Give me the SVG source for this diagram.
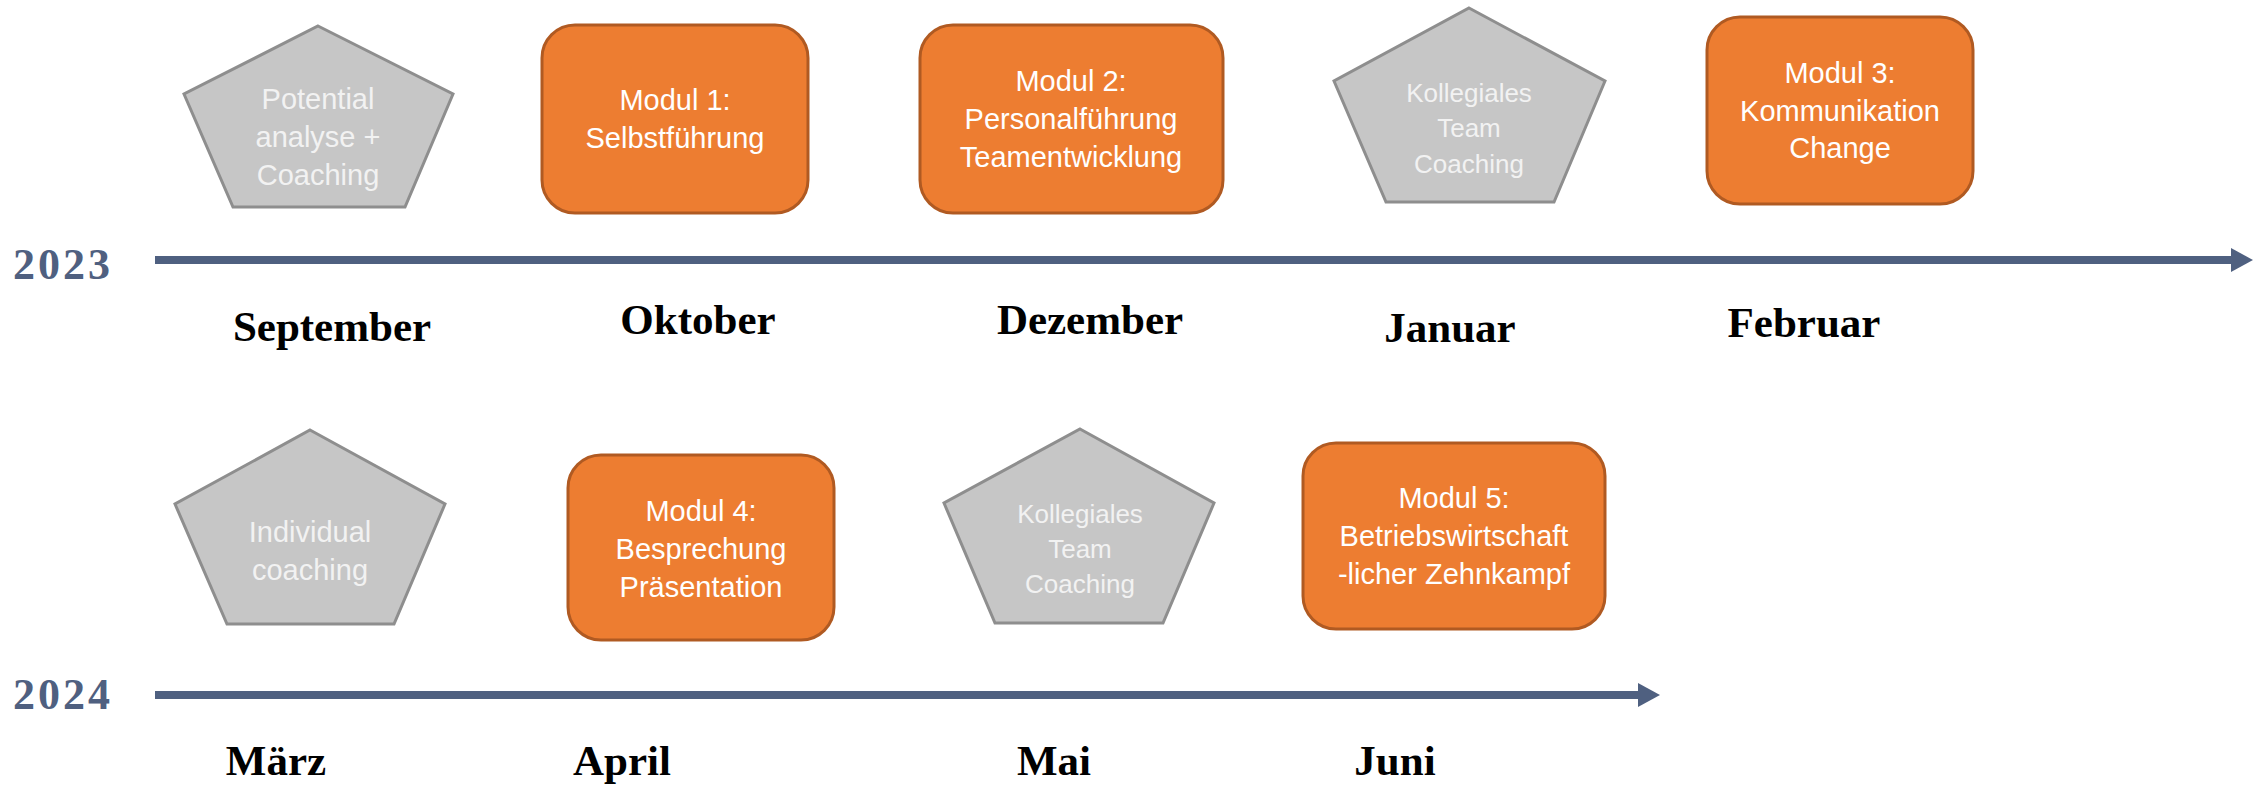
<svg xmlns="http://www.w3.org/2000/svg" width="2267" height="786" viewBox="0 0 2267 786">
<style>
.pent{fill:#C6C6C6;stroke:#8E8E8E;stroke-width:3;stroke-linejoin:miter}
.box{fill:#ED7D31;stroke:#B05A22;stroke-width:3}
.wt{font-family:"Liberation Sans",Arial,sans-serif;font-size:29px;fill:#FFFFFF;text-anchor:middle}
.gt{font-family:"Liberation Sans",Arial,sans-serif;font-size:29px;fill:#F2F2F2;text-anchor:middle}
.gs{font-family:"Liberation Sans",Arial,sans-serif;font-size:26px;fill:#F2F2F2;text-anchor:middle}
.month{font-family:"Liberation Serif","Times New Roman",serif;font-size:43px;font-weight:bold;fill:#000000;text-anchor:middle}
.year{font-family:"Liberation Serif","Times New Roman",serif;font-size:44px;font-weight:bold;fill:#4F6080;letter-spacing:3px}
.axis{stroke:#4F6080;stroke-width:8;fill:none}
</style>
<defs>
<marker id="arr" markerUnits="userSpaceOnUse" markerWidth="22" markerHeight="24" refX="0" refY="12" orient="auto">
<path d="M0,0 L22,12 L0,24 Z" fill="#4F6080"/>
</marker>
</defs>
<rect width="2267" height="786" fill="#FFFFFF"/>

<g id="connectors">
<line class="axis" x1="155" y1="260" x2="2231" y2="260" marker-end="url(#arr)"/>
<line class="axis" x1="155" y1="695" x2="1638" y2="695" marker-end="url(#arr)"/>
</g>

<g id="year-2023"><text class="year" x="13" y="279">2023</text></g>
<g id="year-2024"><text class="year" x="13" y="709">2024</text></g>

<g id="potentialanalyse">
<polygon class="pent" points="318,26 453,94 405,207 233,207 184,94"/>
<text class="gt" x="318" y="109">Potential</text>
<text class="gt" x="318" y="147">analyse +</text>
<text class="gt" x="318" y="185">Coaching</text>
</g>

<g id="modul1">
<rect class="box" x="542" y="25" width="266" height="188" rx="33" ry="33"/>
<text class="wt" x="675" y="110">Modul 1:</text>
<text class="wt" x="675" y="148">Selbstführung</text>
</g>

<g id="modul2">
<rect class="box" x="920" y="25" width="303" height="188" rx="33" ry="33"/>
<text class="wt" x="1071" y="91">Modul 2:</text>
<text class="wt" x="1071" y="129">Personalführung</text>
<text class="wt" x="1071" y="167">Teamentwicklung</text>
</g>

<g id="kollegiales1">
<polygon class="pent" points="1469,8 1605,81 1554,202 1386,202 1334,81"/>
<text class="gs" x="1469" y="102">Kollegiales</text>
<text class="gs" x="1469" y="137">Team</text>
<text class="gs" x="1469" y="173">Coaching</text>
</g>

<g id="modul3">
<rect class="box" x="1707" y="17" width="266" height="187" rx="33" ry="33"/>
<text class="wt" x="1840" y="83">Modul 3:</text>
<text class="wt" x="1840" y="121">Kommunikation</text>
<text class="wt" x="1840" y="158">Change</text>
</g>

<g id="months-2023">
<text class="month" x="332" y="341">September</text>
<text class="month" x="698" y="334">Oktober</text>
<text class="month" x="1090" y="334">Dezember</text>
<text class="month" x="1450" y="342">Januar</text>
<text class="month" x="1804" y="337">Februar</text>
</g>

<g id="individualcoaching">
<polygon class="pent" points="310,430 445,504 394,624 227,624 175,504"/>
<text class="gt" x="310" y="542">Individual</text>
<text class="gt" x="310" y="580">coaching</text>
</g>

<g id="modul4">
<rect class="box" x="568" y="455" width="266" height="185" rx="33" ry="33"/>
<text class="wt" x="701" y="521">Modul 4:</text>
<text class="wt" x="701" y="559">Besprechung</text>
<text class="wt" x="701" y="597">Präsentation</text>
</g>

<g id="kollegiales2">
<polygon class="pent" points="1080,429 1214,503 1163,623 995,623 944,503"/>
<text class="gs" x="1080" y="523">Kollegiales</text>
<text class="gs" x="1080" y="558">Team</text>
<text class="gs" x="1080" y="593">Coaching</text>
</g>

<g id="modul5">
<rect class="box" x="1303" y="443" width="302" height="186" rx="33" ry="33"/>
<text class="wt" x="1454" y="508">Modul 5:</text>
<text class="wt" x="1454" y="546">Betriebswirtschaft</text>
<text class="wt" x="1454" y="584">-licher Zehnkampf</text>
</g>

<g id="months-2024">
<text class="month" x="276" y="775">März</text>
<text class="month" x="622" y="775">April</text>
<text class="month" x="1054" y="775">Mai</text>
<text class="month" x="1395" y="775">Juni</text>
</g>
</svg>
